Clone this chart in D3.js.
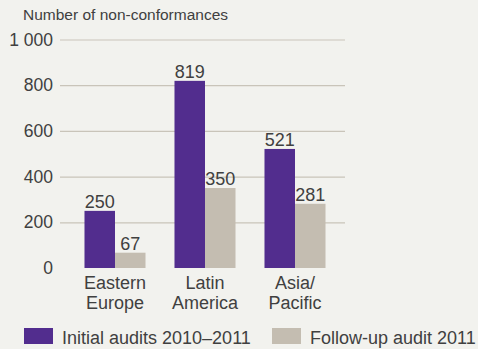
<!DOCTYPE html>
<html>
<head>
<meta charset="utf-8">
<script src="https://cdn.jsdelivr.net/npm/d3@7"></script>
<style>
  html, body { margin: 0; padding: 0; background: #f2f2ee; }
  svg { display: block; font-family: "Liberation Sans", Arial, sans-serif; }
  text { fill: #404040; }
</style>
</head>
<body>
<svg id="chart" width="478" height="349"></svg>
<script>
// Regions along the x axis (each label split into lines)
const categories = ["Eastern Europe", "Latin America", "Asia/Pacific"];
const categoryLines = [["Eastern", "Europe"], ["Latin", "America"], ["Asia/", "Pacific"]];
// Series
const seriesNames = ["Initial audits 2010–2011", "Follow-up audit 2011"];
const initialAudits = [250, 819, 521];
const followUpAudits = [67, 350, 281];
// Y axis ticks
const yTicks = [0, 200, 400, 600, 800, 1000];
const yTitle = "Number of non-conformances";

const colors = ["#522d8e", "#c4bdb1"];
const seriesValues = [initialAudits, followUpAudits];

const svg = d3.select("#chart");

const y = d3.scaleLinear().domain([0, 1000]).range([268, 39.5]);

const x0 = d3.scaleBand()
  .domain(categories)
  .range([70, 340])
  .paddingInner(0.322)
  .paddingOuter(0.161);

const x1 = d3.scaleBand()
  .domain(seriesNames)
  .range([0, x0.bandwidth()]);

// y axis title
svg.append("text")
  .attr("x", 23)
  .attr("y", 20)
  .attr("font-size", 15.5)
  .text(yTitle);

// y axis with gridlines
const fmt = d3.formatLocale({ decimal: ".", thousands: " ", grouping: [3], currency: ["", ""] }).format(",");
const axis = svg.append("g")
  .attr("transform", "translate(60,0)")
  .call(d3.axisLeft(y).tickValues(yTicks).tickFormat(fmt).tickSizeInner(-285).tickSizeOuter(0).tickPadding(7));
axis.select(".domain").remove();
axis.selectAll(".tick line")
  .attr("stroke", "#c9c4b9")
  .attr("stroke-width", 1.2)
  .filter(d => d === 0).remove();
axis.selectAll(".tick text")
  .attr("font-size", 17.5)
  .attr("fill", "#404040")
  .attr("font-family", "Liberation Sans, Arial, sans-serif");

// bars
const groups = svg.append("g").selectAll("g")
  .data(categories)
  .join("g")
  .attr("transform", d => `translate(${x0(d)},0)`);

groups.selectAll("rect")
  .data((d, i) => seriesNames.map((s, j) => ({ s, v: seriesValues[j][i], j })))
  .join("rect")
  .attr("x", d => x1(d.s))
  .attr("y", d => y(d.v))
  .attr("width", x1.bandwidth())
  .attr("height", d => y(0) - y(d.v))
  .attr("fill", d => colors[d.j]);

// value labels
groups.selectAll("text.value")
  .data((d, i) => seriesNames.map((s, j) => ({ s, v: seriesValues[j][i] })))
  .join("text")
  .attr("class", "value")
  .attr("x", d => x1(d.s) + x1.bandwidth() / 2)
  .attr("y", d => y(d.v) - 3)
  .attr("text-anchor", "middle")
  .attr("font-size", 18)
  .text(d => d.v);

// category labels
svg.append("g").selectAll("text")
  .data(categories)
  .join("text")
  .attr("text-anchor", "middle")
  .attr("font-size", 18)
  .attr("x", d => x0(d) + x0.bandwidth() / 2)
  .attr("y", 289)
  .each(function (d, i) {
    d3.select(this).selectAll("tspan")
      .data(categoryLines[i])
      .join("tspan")
      .attr("x", x0(d) + x0.bandwidth() / 2)
      .attr("dy", (t, k) => k === 0 ? 0 : 20)
      .text(t => t);
  });

// legend
const legendX = [24, 272];
const legend = svg.append("g").selectAll("g")
  .data(seriesNames)
  .join("g")
  .attr("transform", (d, i) => `translate(${legendX[i]},328)`);
legend.append("rect")
  .attr("width", 29)
  .attr("height", 16)
  .attr("fill", (d, i) => colors[i]);
legend.append("text")
  .attr("x", 38)
  .attr("y", 16)
  .attr("font-size", 18)
  .text(d => d);
</script>
</body>
</html>
